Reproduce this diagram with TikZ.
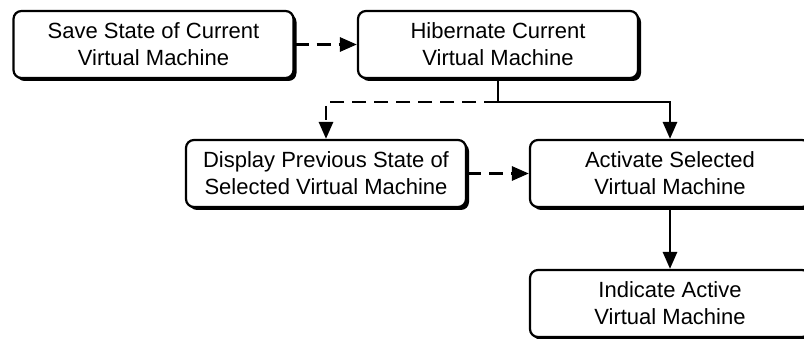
\documentclass[tikz,border=0pt]{standalone}
\usepackage{fontspec}
\setmainfont{Liberation Sans}
\usetikzlibrary{arrows.meta,shadows}
\begin{document}
\begin{tikzpicture}[x=1pt,y=-1pt,
  box/.style={draw=black, line width=2.2pt, rounded corners=8pt, fill=white,
    minimum width=280pt, minimum height=67pt, inner sep=0pt, align=center,
    font=\fontsize{22}{27}\selectfont,
    drop shadow={shadow xshift=3pt, shadow yshift=-3pt, fill=black, opacity=1}},
  conn/.style={line width=2.8pt, -{Triangle[length=17pt,width=14pt]}},
  dashconn/.style={conn, dash pattern=on 14pt off 8pt},
  plain/.style={line width=2.8pt}]
\useasboundingbox (0,0) rectangle (804,339);
\clip (0,0) rectangle (804,339);
\node[box] (save) at (153.5,44.5) {Save State of Current\\Virtual Machine};
\node[box] (hib) at (498,44.5) {Hibernate Current\\Virtual Machine};
\node[box] (disp) at (326,173.5) {Display Previous State of\\Selected Virtual Machine};
\node[box] (act) at (670,173.5) {Activate Selected\\Virtual Machine};
\node[box] (ind) at (670,303.5) {Indicate Active\\Virtual Machine};
\coordinate (j) at (498,102);
\draw[dashconn] (save) -- (hib);
\draw[plain] (hib.south) -- (j);
\draw[dashconn] (j) -| (disp.north);
\draw[conn] (j) -| (act.north);
\draw[dashconn] (disp) -- (act);
\draw[conn] (act) -- (ind);
\end{tikzpicture}
\end{document}
